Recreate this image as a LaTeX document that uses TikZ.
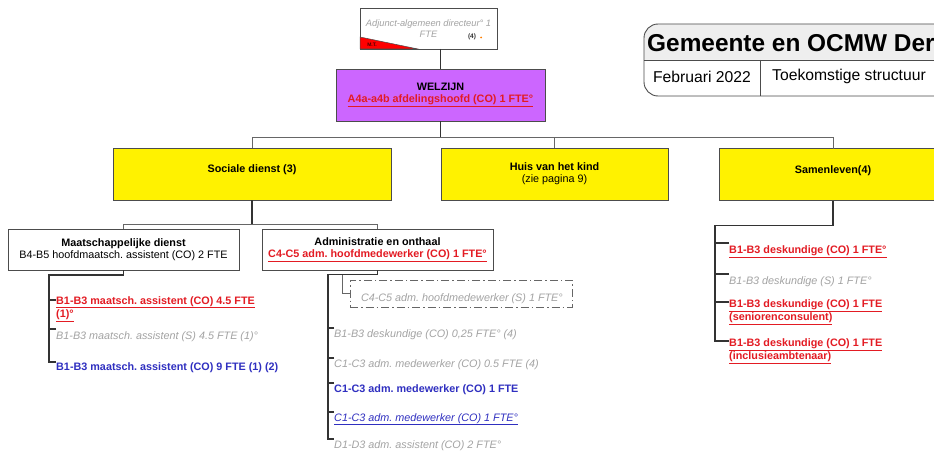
\documentclass[tikz,border=0pt]{standalone}
\usepackage{fontspec}
\setmainfont{Liberation Sans}
\usepackage{tikz}
\usetikzlibrary{calc,positioning}
\definecolor{welzijnpurple}{HTML}{CC66FF}
\definecolor{itemred}{HTML}{E31B23}
\definecolor{itemblue}{HTML}{2F2FC0}
\definecolor{itemgrey}{HTML}{A3A3A3}
\definecolor{titlegrey}{HTML}{EEEEEE}
\newcommand{\itemsize}{\fontsize{10.8}{12}\selectfont}
\tikzstyle{box}=[
  draw=black!70,
  line width=0.9pt,
  inner sep=0pt,
  outer sep=0pt,
  rectangle,
  align=center,
  font=\itemsize,
]
\tikzstyle{dienst}=[
  box,
  fill=yellow,
  minimum height=52pt,
]
\tikzstyle{sub}=[
  box,
  minimum width=231pt,
  minimum height=41pt,
]
\tikzstyle{item}=[
  anchor=north west,
  inner sep=0pt,
  align=left,
]
\tikzstyle{redco}=[item, text=itemred, font=\itemsize\bfseries]
\tikzstyle{greys}=[item, text=itemgrey, font=\itemsize\itshape]
\tikzstyle{blueco}=[item, text=itemblue, font=\itemsize\bfseries]
\tikzstyle{blueit}=[item, text=itemblue, font=\itemsize\itshape]
\tikzstyle{line}=[
  draw=black!80,
  line width=1.2pt,
]
\tikzstyle{thinline}=[
  draw=black!60,
  line width=0.8pt,
]
\tikzstyle{frame}=[
  draw=black!70,
  line width=0.9pt,
]
\tikzset{
  onetop/.style={text height=8pt, text depth=10.4pt},
}

\begin{document}
\frenchspacing
\begin{tikzpicture}[x=1pt, y=-1pt]
      \useasboundingbox [fill=white] (0,0) rectangle (934,452);
      %% title block
      \fill [titlegrey, rounded corners=14pt] (644,24) rectangle (1000,96);
      \fill [white] (1000,60) -- (644,60) [rounded corners=14pt] -- (644,96) -- (1000,96) -- cycle;
      \draw [frame, rounded corners=14pt] (644,24) rectangle (1000,96);
      \draw [frame] (644,60) -- (1000,60);
      \draw [frame] (760,60) -- (760,96);
      \node (titel) [anchor=west, inner sep=0pt, font=\fontsize{24.4}{28}\selectfont\bfseries] at (647,43) {Gemeente en OCMW Der};
      \node (datum) [inner sep=0pt, font=\fontsize{15.7}{18}\selectfont] at (702,77) {Februari 2022};
      \node (structuur) [anchor=west, inner sep=0pt, font=\fontsize{15.7}{18}\selectfont] at (772,76) {Toekomstige structuur};
      %%
      \node (adjunct) [box, minimum width=137pt, minimum height=41pt, text=itemgrey,
        font=\fontsize{9.3}{11}\selectfont\itshape] at (428.5,28.5) {Adjunct-algemeen directeur° 1\\FTE};
      \fill [red, draw=black!70, line width=0.5pt] (adjunct.south west) -- ++(0,-12) -- ++(58,12) -- cycle;
      \node (mt) [inner sep=0pt, font=\fontsize{5}{6}\selectfont\bfseries, text=black!70!red] at (372,45) {M.T.};
      \node (vier) [inner sep=0pt, font=\fontsize{6.5}{7}\selectfont\bfseries, text=black!80] at (472,37) {(4)};
      \fill [orange] (481,37.5) circle (1);
      %%
      \node (welzijn) [box, fill=welzijnpurple, minimum width=209pt, minimum height=52pt] at (440.5,95)
        {\textbf{WELZIJN}\\\textcolor{itemred}{\textbf{\underline{A4a-a4b afdelingshoofd (CO) 1 FTE°}}}};
      %%
      \node (sociale) [dienst, onetop, minimum width=278pt] at (252,174) {\textbf{Sociale dienst (3)}};
      \node (huis) [dienst, minimum width=227pt] at (554.5,174) {\textbf{Huis van het kind}\\(zie pagina 9)};
      \node (samen) [dienst, onetop, minimum width=228pt] at (833,174.5) {\textbf{Samenleven(4)}};
      %%
      \node (maats) [sub] at (123.5,249.5) {\textbf{Maatschappelijke dienst}\\B4-B5 hoofdmaatsch. assistent (CO) 2 FTE};
      \node (admin) [sub] at (377.5,249.5)
        {\textbf{Administratie en onthaal}\\\textcolor{itemred}{\textbf{\underline{C4-C5 adm. hoofdmedewerker (CO) 1 FTE°}}}};
      \node (ahoofd) [draw=black!60, line width=0.9pt, dash pattern=on 8pt off 3pt on 1.5pt off 3pt,
        inner sep=0pt, minimum width=222pt, text height=21pt, text depth=6pt,
        text=itemgrey, font=\itemsize\itshape] at (461,293.5) {\makebox[200pt][l]{C4-C5 adm. hoofdmedewerker (S) 1 FTE°}};
      %%
      \node (mi1) [redco] at (56,296) {\underline{B1-B3 maatsch. assistent (CO) 4.5 FTE}\\\underline{(1)°}};
      \node (mi2) [greys] at (56,331) {B1-B3 maatsch. assistent (S) 4.5 FTE (1)°};
      \node (mi3) [blueco] at (56,362) {B1-B3 maatsch. assistent (CO) 9 FTE (1) (2)};
      %%
      \node (ai1) [greys] at (334,329) {B1-B3 deskundige (CO) 0,25 FTE° (4)};
      \node (ai2) [greys] at (334,359) {C1-C3 adm. medewerker (CO) 0.5 FTE (4)};
      \node (ai3) [blueco] at (334,384) {C1-C3 adm. medewerker (CO) 1 FTE};
      \node (ai4) [blueit] at (334,413) {\underline{C1-C3 adm. medewerker (CO) 1 FTE°}};
      \node (ai5) [greys] at (334,440) {D1-D3 adm. assistent (CO) 2 FTE°};
      %%
      \node (si1) [redco] at (729,245) {\underline{B1-B3 deskundige (CO) 1 FTE°}};
      \node (si2) [greys] at (729,276) {B1-B3 deskundige (S) 1 FTE°};
      \node (si3) [redco] at (729,299) {\underline{B1-B3 deskundige (CO) 1 FTE}\\\underline{(seniorenconsulent)}};
      \node (si4) [redco] at (729,338) {\underline{B1-B3 deskundige (CO) 1 FTE}\\\underline{(inclusieambtenaar)}};
      %%
      \coordinate (busA) at (0,137.5);
      \coordinate (busB) at (0,224.5);
      \draw [line] (welzijn.north |- adjunct.south) -- (welzijn.north);
      \draw [line] (welzijn.south) -- (welzijn.south |- busA);
      \draw [thinline] (sociale.north) |- (busA -| samen.north) -- (samen.north);
      \draw [thinline] (huis.north) -- (huis.north |- busA);
      \draw [line] (sociale.south) -- (sociale.south |- busB);
      \draw [thinline] (maats.north) |- (busB -| admin.north) -- (admin.north);
      %%
      \draw [line] (maats.south) -- ++(0,5) -| ([xshift=-7pt]mi3.north west) -- (mi3.north west);
      \draw [line] ([yshift=-4pt]mi1.north west) -- ++(-7,0);
      \draw [line] ([yshift=2pt]mi2.north west) -- ++(-7,0);
      %%
      \draw [line] (admin.south) -- ++(0,4.5) -| ([xshift=-6pt,yshift=1pt]ai5.north west) -- ([yshift=1pt]ai5.north west);
      \draw [line] ([yshift=1pt]ai1.north west) -- ++(-6,0);
      \draw [line] ([yshift=1pt]ai2.north west) -- ++(-6,0);
      \draw [line] ([yshift=1pt]ai3.north west) -- ++(-6,0);
      \draw [line] ([yshift=1pt]ai4.north west) -- ++(-6,0);
      \draw [thinline] (ahoofd.west) -| ++(-7,-19);
      %%
      \draw [line] (samen.south) -- ++(0,25) -| ([xshift=-14pt,yshift=-3pt]si4.north west) -- ([yshift=-3pt]si4.north west);
      \draw [line] ([yshift=2pt]si1.north west) -- ++(-14,0);
      \draw [line] ([yshift=2pt]si2.north west) -- ++(-14,0);
      \draw [line] ([yshift=-3pt]si3.north west) -- ++(-14,0);
    \end{tikzpicture}
\end{document}
